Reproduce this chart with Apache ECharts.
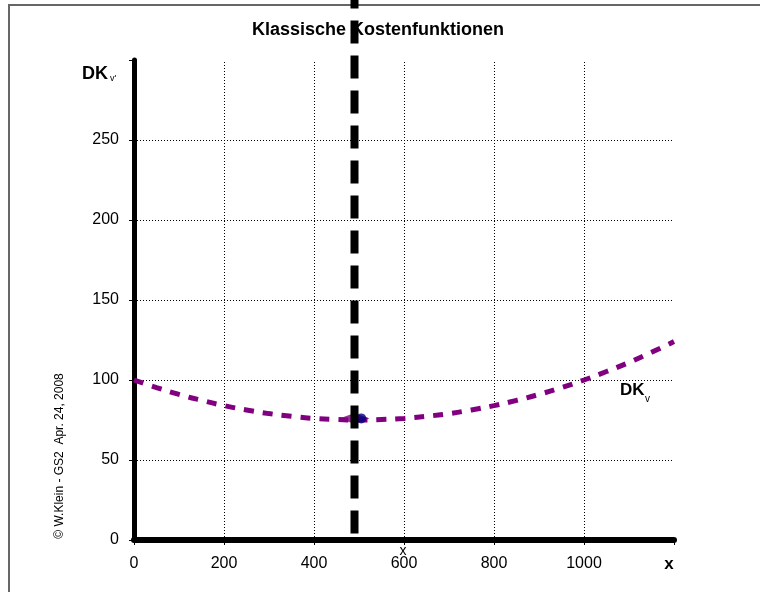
<!DOCTYPE html>
<html>
<head>
<meta charset="utf-8">
<script src="https://cdn.jsdelivr.net/npm/echarts@6/dist/echarts.min.js"></script>
<style>html,body{margin:0;padding:0;background:#fff}#c{width:760px;height:592px}</style>
</head>
<body>
<div id="c"></div>
<script>
// ---- data ----
const xValues = [0,50,100,150,200,250,300,350,400,450,500,550,600,650,700,750,800,850,900,950,1000,1050,1100,1150,1200];
const dkvValues = [100,95.3,91,87.3,84,81.3,79,77.3,76,75.3,75,75.3,76,77.3,79,81.3,84,87.3,91,95.3,100,105.3,111,117.3,124];
const markerPurple = [490, 76];
const markerNavy = [505, 76];
const verticalLineX = 490;
const verticalLineY = [4, 338];
const xTicks = [0,200,400,600,800,1000];
const yTicks = [0,50,100,150,200,250];
const xGrid = [200,400,600,800,1000];
const yGrid = [50,100,150,200,250];
const titleText = 'Klassische Kostenfunktionen';
const copyrightText = '\u00A9 W.Klein - GS2  Apr. 24, 2008';

const FONT = "'Liberation Sans', Arial, sans-serif";
const chart = echarts.init(document.getElementById('c'), null, {renderer:'canvas'});

const curveData = xValues.map((x,i)=>[x, dkvValues[i]]);

const option = {
  animation: false,
  backgroundColor: '#fff',
  grid: {left:134, right:86, top:60, bottom:52, containLabel:false},
  xAxis: {
    type:'value', min:0, max:1200, interval:200,
    axisLine:{show:true, onZero:false, lineStyle:{color:'#000', width:6, cap:'round'}},
    axisTick:{show:true, length:5, lineStyle:{color:'#000', width:1}},
    splitLine:{show:false},
    axisLabel:{
      margin:16, color:'#000', fontSize:16, fontFamily:FONT,
      formatter: v => v === 1200 ? '{b|x}' : (xTicks.indexOf(v) >= 0 ? String(v) : ''),
      rich:{b:{fontSize:17, fontWeight:'bold', fontFamily:FONT, color:'#000', padding:[0,10,0,0]}}
    }
  },
  yAxis: {
    type:'value', min:0, max:300, interval:50,
    axisLine:{show:true, onZero:false, lineStyle:{color:'#000', width:5, cap:'round'}},
    axisTick:{show:true, length:5, lineStyle:{color:'#000', width:1}},
    splitLine:{show:false},
    axisLabel:{
      margin:15, color:'#000', fontSize:16, fontFamily:FONT,
      formatter: v => yTicks.indexOf(v) >= 0 ? String(v) : ''
    }
  },
  graphic: [
    {type:'rect', z:0, shape:{x:9, y:5, width:900, height:800}, style:{fill:'none', stroke:'#666', lineWidth:2}},
    {type:'text', z:1, x:378, y:30, style:{text:titleText, font:'bold 18px '+FONT, fill:'#000', align:'center', verticalAlign:'middle'}},
    {type:'text', z:1, x:82, y:74, style:{text:'DK', font:'bold 18px '+FONT, fill:'#000', align:'left', verticalAlign:'middle'}},
    {type:'text', z:1, x:110, y:79, style:{text:"v'", font:'9px '+FONT, fill:'#000', align:'left', verticalAlign:'middle'}},
    {type:'text', z:1, x:620, y:390, style:{text:'DK', font:'bold 17px '+FONT, fill:'#000', align:'left', verticalAlign:'middle'}},
    {type:'text', z:1, x:645, y:399, style:{text:'v', font:'10px '+FONT, fill:'#000', align:'left', verticalAlign:'middle'}},
    {type:'text', z:1, x:403, y:551, style:{text:'x', font:'14px '+FONT, fill:'#000', align:'center', verticalAlign:'middle'}},
    {type:'text', z:1, x:60, y:456, rotation:Math.PI/2, style:{text:copyrightText, font:'12px '+FONT, fill:'#000', align:'center', verticalAlign:'middle'}}
  ],
  series: [
    {
      type:'line', name:'DKv', z:2, data:curveData, smooth:true, showSymbol:false, symbol:'none',
      lineStyle:{color:'#800080', width:5, type:[10,9]},
      markLine:{
        silent:true, z:1, symbol:['none','none'], label:{show:false}, animation:false,
        lineStyle:{color:'#000', width:1, type:[1,2]},
        emphasis:{disabled:true},
        data: xGrid.map(v=>({xAxis:v})).concat(yGrid.map(v=>({yAxis:v})))
      }
    },
    {
      type:'scatter', z:3, data:[markerPurple], symbol:'diamond', symbolSize:[30,11],
      itemStyle:{color:'#800080'}
    },
    {
      type:'scatter', z:3, data:[markerNavy], symbol:'circle', symbolSize:10,
      itemStyle:{color:'#000080'}
    },
    {
      type:'line', z:4, clip:false, showSymbol:false, symbol:'none',
      data:[[verticalLineX, verticalLineY[0]], [verticalLineX, verticalLineY[1]]],
      lineStyle:{color:'#000', width:8, type:[23,12], cap:'butt'}
    }
  ]
};
chart.setOption(option);
</script>
</body>
</html>
